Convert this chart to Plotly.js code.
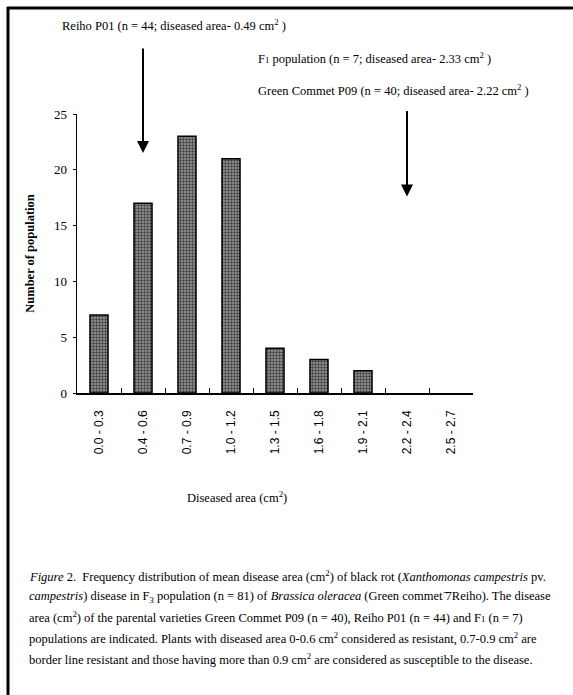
<!DOCTYPE html>
<html>
<head>
<meta charset="utf-8">
<script src="https://cdn.plot.ly/plotly-3.0.1.min.js"></script>
<style>html,body{margin:0;padding:0;background:#fff;}</style>
</head>
<body>
<div id="chart" style="width:573px;height:695px;"></div>
<script>
// ---- data ----
const categories = ["0.0 - 0.3","0.4 - 0.6","0.7 - 0.9","1.0 - 1.2","1.3 - 1.5","1.6 - 1.8","1.9 - 2.1","2.2 - 2.4","2.5 - 2.7"];
const counts = [7, 17, 23, 21, 4, 3, 2, 0, 0];
const yTicks = [0, 5, 10, 15, 20, 25];
const parentLabels = [
  "Reiho P01 (n = 44; diseased area- 0.49 cm<sup>2</sup> )",
  "F<span style=\"font-size:70%\">1</span> population (n = 7; diseased area- 2.33 cm<sup>2</sup> )",
  "Green Commet P09 (n = 40; diseased area- 2.22 cm<sup>2</sup> )"
];
const arrowCategories = ["0.4 - 0.6", "2.2 - 2.4"];
const arrowTips = [21.5, 17.6];
const captionLines = [
  "<i>Figure</i> 2.  Frequency distribution of mean disease area (cm<sup>2</sup>) of black rot (<i>Xanthomonas campestris</i> pv.",
  "<i>campestris</i>) disease in F<sub>3</sub> population (n = 81) of <i>Brassica oleracea</i> (Green commet \u0304\u0037Reiho). The disease",
  "area (cm<sup>2</sup>) of the parental varieties Green Commet P09 (n = 40), Reiho P01 (n = 44) and F<span style=\"font-size:70%\">1</span> (n = 7)",
  "populations are indicated. Plants with diseased area 0-0.6 cm<sup>2</sup> considered as resistant, 0.7-0.9 cm<sup>2</sup> are",
  "border line resistant and those having more than 0.9 cm<sup>2</sup> are considered as susceptible to the disease."
];

// ---- geometry helpers (plot area in px) ----
const W = 573, H = 695, L = 77, R = 100, T = 114, B = 302;
const pw = W - L - R, ph = H - T - B;
const px = v => (v - L) / pw;
const py = v => (H - B - v) / ph;

const serif = "Liberation Serif, Times New Roman, serif";
const sans = "Liberation Sans, Arial, sans-serif";

const trace = {
  type: "bar",
  x: categories,
  y: counts,
  marker: {
    color: "#8e8e8e",
    line: {color: "#000", width: counts.map(c => c > 0 ? 1.5 : 0)},
    pattern: {shape: ".", fgcolor: "#404040", bgcolor: "#9c9c9c", size: 3, solidity: 0.5}
  },
  hoverinfo: "skip"
};

const annotations = [];
// parent labels
const labelPos = [[60, 25], [256, 58], [256, 90]];
parentLabels.forEach((t, i) => {
  annotations.push({
    xref: "paper", yref: "paper", x: px(labelPos[i][0]), y: py(labelPos[i][1]),
    xanchor: "left", yanchor: "middle", text: t, showarrow: false,
    font: {family: serif, size: 12.5, color: "#000"}
  });
});
// arrows
const arrowLen = [106, 87];
arrowCategories.forEach((c, i) => {
  annotations.push({
    xref: "x", yref: "y", x: c, y: arrowTips[i], text: "", showarrow: true,
    ax: 0, ay: -arrowLen[i], arrowhead: 2, arrowsize: 1.2, arrowwidth: 2, arrowcolor: "#000", standoff: 0
  });
});
// x title
annotations.push({
  xref: "paper", yref: "paper", x: px(237), y: py(497), xanchor: "center", yanchor: "middle",
  text: "Diseased area (cm<sup>2</sup>)", showarrow: false, font: {family: serif, size: 12.5, color: "#000"}
});
// caption
const capY = [576, 597, 617, 638, 659];
captionLines.forEach((t, i) => {
  annotations.push({
    xref: "paper", yref: "paper", x: px(27), y: py(capY[i]), xanchor: "left", yanchor: "middle",
    text: t, showarrow: false, font: {family: serif, size: 12.5, color: "#000"}
  });
});

const shapes = [
  {type: "line", xref: "paper", yref: "paper", x0: px(8), x1: px(8), y0: py(7), y1: py(700), line: {color: "#000", width: 3}},
  {type: "line", xref: "paper", yref: "paper", x0: px(7), x1: px(580), y0: py(8), y1: py(8), line: {color: "#000", width: 3}}
];

const layout = {
  width: W, height: H,
  margin: {l: L, r: R, t: T, b: B, pad: 0},
  paper_bgcolor: "#fff", plot_bgcolor: "#fff",
  showlegend: false,
  bargap: 0.59,
  xaxis: {
    type: "category", range: [-0.5, 8.5],
    showline: true, linecolor: "#000", linewidth: 1.5,
    ticks: "inside", tickson: "boundaries", ticklen: 5, tickcolor: "#000", tickwidth: 1,
    tickangle: -90, ticklabelstandoff: 11,
    tickfont: {family: sans, size: 12, color: "#000"},
    showgrid: false, zeroline: false, fixedrange: true
  },
  yaxis: {
    range: [0, 25], tickvals: yTicks,
    showline: true, linecolor: "#000", linewidth: 1.5,
    ticks: "outside", ticklen: 3, tickcolor: "#000",
    tickfont: {family: serif, size: 13, color: "#000"},
    ticklabelstandoff: 3,
    showgrid: false, zeroline: false, fixedrange: true,
    title: {text: "<b>Number of population</b>", font: {family: serif, size: 12.5, color: "#000"}, standoff: 16}
  },
  annotations: annotations,
  shapes: shapes
};

Plotly.newPlot("chart", [trace], layout, {staticPlot: true, displayModeBar: false});
</script>
</body>
</html>
